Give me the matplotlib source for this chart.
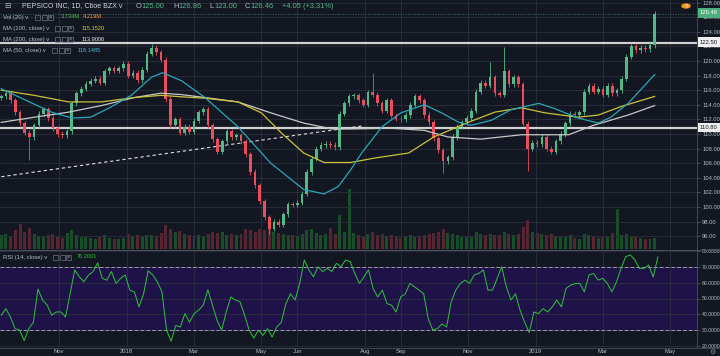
import numpy as np
import pandas as pd
import matplotlib
matplotlib.use('Agg')
import matplotlib.pyplot as plt
from matplotlib.patches import Rectangle, Circle

# one candle per 3 business days, first one on 2017-09-11
closes = [115.2, 115.6, 114.6, 113.0, 111.5, 110.2, 109.6, 111.2, 112.8, 113.4,
          112.2, 110.8, 110.0, 109.8, 110.4, 114.2, 115.6, 116.2, 116.9, 117.3,
          117.6, 117.0, 118.6, 119.0, 118.7, 119.0, 119.6, 118.0, 118.4, 117.4,
          118.8, 121.0, 121.8, 121.2, 120.2, 114.8, 111.2, 112.0, 110.2, 111.0,
          110.3, 111.8, 113.0, 113.4, 111.2, 109.3, 107.6, 109.0, 110.4, 109.6,
          109.8, 109.0, 107.2, 104.8, 103.0, 100.8, 98.6, 97.0, 98.0, 97.6,
          99.0, 100.4, 100.3, 100.6, 101.8, 104.8, 106.6, 108.0, 108.5, 108.7,
          108.5, 108.2, 112.8, 114.2, 115.2, 115.3, 114.6, 114.0, 115.7, 115.4,
          114.2, 113.2, 114.6, 112.5, 112.1, 112.0, 112.6, 114.0, 115.2, 114.6,
          112.6, 111.6, 109.4, 107.8, 106.3, 106.8, 109.6, 111.0, 111.6, 112.2,
          113.2, 115.8, 117.0, 116.6, 117.8, 115.6, 115.4, 118.6, 116.8, 117.8,
          116.8, 111.4, 108.0, 108.8, 108.6, 109.6, 108.0, 107.6, 109.0, 110.0,
          111.5, 112.8, 112.6, 113.0, 115.8, 116.6, 115.8, 116.2, 115.4, 116.6,
          115.6, 116.0, 117.6, 120.6, 122.0, 121.5, 121.8, 121.6, 122.2, 126.46]
first_open = 115.0
spike_highs = {32: 122.4, 79: 118.3, 104: 119.9, 107: 121.9, 139: 126.86}
spike_lows = {6: 106.4, 57: 96.3, 94: 104.7, 112: 105.0}

volumes = [5.5, 6.2, 5.0, 7.5, 10.0, 6.8, 8.5, 6.0, 5.2, 4.8,
           5.6, 6.0, 5.0, 4.6, 6.5, 7.8, 5.5, 4.8, 5.0, 4.5,
           4.2, 4.8, 5.5, 4.6, 4.2, 4.0, 4.5, 6.0, 5.2, 5.8,
           5.0, 5.5, 5.8, 5.2, 6.5, 9.5, 8.0, 6.8, 7.2, 6.0,
           5.8, 5.2, 5.5, 5.0, 6.2, 7.0, 6.5, 6.8, 5.5, 6.0,
           5.6, 6.2, 8.0, 7.5, 7.0, 8.2, 7.8, 9.0, 7.0, 6.5,
           6.0, 5.5, 5.8, 5.2, 6.0, 7.5, 8.0, 6.5, 5.5, 6.0,
           8.5, 6.0, 13.5, 7.0, 24.0, 6.5, 5.5, 5.0, 6.0, 7.0,
           5.5, 6.0, 5.2, 5.8, 4.8, 4.5, 5.0, 5.5, 4.8, 5.0,
           5.5, 6.0, 6.5, 7.0, 8.0, 6.5, 6.0, 5.5, 5.0, 4.8,
           5.0, 6.8, 6.0, 5.5, 6.2, 5.8, 5.5, 7.0, 6.0, 5.5,
           6.0, 9.0, 11.5, 7.0, 6.5, 6.0, 5.5, 6.0, 5.0, 4.8,
           5.0, 5.5, 4.5, 4.2, 6.0, 5.5, 4.8, 4.5, 5.0, 4.8,
           6.5, 16.0, 5.5, 6.0, 5.2, 4.8, 4.5, 4.2, 4.0, 4.5]

# moving averages: (business-day index, value)
ma50_days = [0, 32, 45, 57, 70, 83, 96, 103, 115, 130, 151, 172, 193, 206, 215, 223,
             230, 243, 255, 270, 281, 292, 300, 313, 325, 343, 353, 368, 381, 389, 400, 417]
ma50_vals = [116.2, 113.0, 112.2, 112.3, 113.7, 115.3, 117.8, 118.4, 117.3, 115.0, 111.0,
             106.0, 102.4, 101.8, 102.8, 105.1, 107.4, 111.0, 112.9, 114.0, 112.9, 111.6,
             111.2, 111.9, 113.3, 114.2, 113.5, 112.2, 111.5, 112.3, 114.2, 118.15]
ma100_days = [0, 21, 43, 64, 85, 102, 115, 130, 151, 166, 179, 193, 206, 223, 238, 260,
              276, 298, 315, 332, 347, 368, 381, 396, 417]
ma100_vals = [116.0, 115.3, 114.4, 114.4, 115.0, 115.3, 115.1, 114.9, 114.4, 112.9, 110.1,
              107.4, 106.1, 106.1, 106.7, 107.4, 109.6, 111.6, 113.0, 113.6, 112.9, 112.3,
              112.6, 113.8, 115.15]
ma200_days = [0, 21, 43, 64, 85, 102, 115, 130, 151, 172, 193, 211, 223, 249, 270, 285,
              306, 332, 347, 362, 378, 400, 417]
ma200_vals = [111.6, 112.3, 113.0, 113.9, 115.0, 115.6, 115.4, 115.0, 114.4, 112.9, 111.5,
              110.7, 110.7, 110.8, 110.5, 109.6, 109.3, 109.9, 109.9, 109.9, 111.2, 112.6, 113.9]

rsi = [39.4, 43.6, 38.3, 31.0, 30.0, 23.5, 31.0, 35.0, 56.0, 49.0, 45.8, 39.4, 41.5, 41.5,
       38.3, 53.0, 68.0, 63.7, 60.5, 64.8, 67.0, 72.5, 62.7, 61.6, 67.0, 59.5, 62.7, 64.8,
       55.3, 54.2, 44.7, 53.0, 67.5, 64.8, 60.5, 54.2, 30.0, 23.0, 33.0, 32.0, 40.5, 35.0,
       40.5, 42.6, 45.8, 55.5, 45.8, 36.2, 30.0, 41.5, 51.0, 49.0, 47.9, 39.4, 30.0, 25.0,
       30.0, 26.7, 31.0, 25.7, 32.0, 35.0, 46.8, 53.0, 49.0, 59.5, 74.3, 68.0, 63.7, 70.0,
       67.0, 69.0, 67.0, 72.2, 70.0, 74.3, 73.2, 65.8, 59.5, 63.7, 68.0, 56.3, 51.0, 55.3,
       46.8, 45.8, 41.5, 51.0, 53.0, 59.5, 57.4, 55.3, 53.0, 37.3, 30.0, 31.0, 34.0, 32.0,
       47.9, 55.3, 59.5, 61.6, 59.5, 64.8, 65.8, 68.0, 55.3, 55.3, 62.7, 70.0, 57.4, 49.0,
       53.0, 42.6, 35.0, 28.5, 41.5, 40.5, 43.6, 41.5, 44.7, 49.0, 44.7, 56.3, 58.4, 59.5,
       59.5, 54.2, 64.8, 65.8, 61.6, 62.7, 59.5, 54.2, 60.5, 69.0, 76.4, 77.5, 74.3, 69.0,
       69.0, 71.1, 63.5, 76.2]

tick_months = ['2017-11', '2018-01', '2018-03', '2018-05', '2018-06', '2018-08',
               '2018-09', '2018-11', '2019-01', '2019-03', '2019-05']
tick_labels = ['Nov', '2018', 'Mar', 'May', 'Jun', 'Aug', 'Sep', 'Nov', '2019', 'Mar', 'May']

levels = [122.50, 110.80]
trend_days = [0, 230]
trend_vals = [104.15, 111.1]

BG = '#131722'
GRID = '#2c303d'
TXT = '#b8bcc6'
UP, DOWN = '#53b987', '#eb4d5c'
FONT = ['Liberation Sans', 'DejaVu Sans']

W, H = 720, 356
def fx(px):
    return px / W
def fy(py):
    return 1 - py / H

fig = plt.figure(figsize=(7.2, 3.56), dpi=100, facecolor=BG)
ax = fig.add_axes([0, fy(249), fx(697), 249 / H])
axr = fig.add_axes([0, fy(347), fx(697), 97 / H], sharex=ax)
ax_vol = ax.twinx()
ax_vol.set_zorder(ax.get_zorder() - 1)
ax.patch.set_visible(False)
axr.set_facecolor(BG)

closes = np.array(closes)
opens = np.concatenate([[first_open], closes[:-1]])
x = np.arange(len(closes)) * 3
highs = np.maximum(opens, closes) + 0.35
lows = np.minimum(opens, closes) - 0.35
for i, v in spike_highs.items():
    highs[i] = v
for i, v in spike_lows.items():
    lows[i] = v
up = closes >= opens
colors = np.where(up, UP, DOWN)

# volume underneath
vcol = np.where(up, '#1b5a2a', '#652833')
ax_vol.bar(x, volumes, width=1.9, color=vcol, alpha=0.85)
ax_vol.set_ylim(0, 100)
ax_vol.axis('off')

ax.vlines(x, lows, highs, colors=colors, lw=0.6, zorder=3)
body = np.maximum(np.abs(closes - opens), 0.08)
ax.bar(x, body, bottom=np.minimum(opens, closes), width=1.7, color=colors, zorder=4)

ax.plot(ma200_days, ma200_vals, color='#c8c8c8', lw=0.9, zorder=5)
ax.plot(ma100_days, ma100_vals, color='#c9c23a', lw=0.9, zorder=5)
ax.plot(ma50_days, ma50_vals, color='#2aa7b8', lw=0.9, zorder=5)
for lv in levels:
    ax.axhline(lv, color='#d0d0d0', lw=1.6, zorder=2)
ax.plot(trend_days, trend_vals, color='#e0e0e0', lw=0.8, ls=(0, (3, 2.5)), zorder=2)
ax.axhline(closes[-1], color=UP, lw=0.6, ls=(0, (1, 2)), alpha=0.7, zorder=2)

dates = pd.bdate_range('2017-09-11', '2019-06-28')
tick_pos = [dates.searchsorted(pd.Timestamp(m + '-01')) for m in tick_months]

ax.set_xlim(-0.8, 444)
ax.set_ylim(94.25, 128.36)
ax.set_yticks(np.arange(96, 129, 2))
ax.yaxis.set_major_formatter(matplotlib.ticker.FormatStrFormatter('%.2f'))
axr.set_ylim(19.4, 80.6)
axr.set_yticks(np.arange(20, 81, 10))
axr.yaxis.set_major_formatter(matplotlib.ticker.FormatStrFormatter('%.4f'))
axr.set_xticks(tick_pos)
axr.set_xticklabels(tick_labels)

for a, ls in ((ax, 4.2), (axr, 3.7)):
    a.yaxis.tick_right()
    a.tick_params(axis='y', length=2.5, width=0.5, color='#5d606b', labelsize=ls,
                  labelcolor=TXT, pad=1.2)
    a.tick_params(axis='x', length=0, labelsize=4.2, labelcolor=TXT, pad=1.5)
    a.grid(True, color=GRID, lw=0.6)
    a.set_axisbelow(True)
    for s in ('top', 'left', 'bottom'):
        a.spines[s].set_visible(False)
    a.spines['right'].set_color('#4a4e5a')
    a.spines['right'].set_linewidth(0.6)
    for lab in a.get_yticklabels() + a.get_xticklabels():
        lab.set_family(FONT)
ax.tick_params(axis='x', labelbottom=False)

# RSI pane
rsi_x = np.linspace(0, 419, len(rsi))
axr.axhspan(30, 70, color='#1f1248', zorder=0)
axr.axhline(70, color='#9a9aa8', lw=0.7, ls=(0, (4, 2)), zorder=1)
axr.axhline(30, color='#9a9aa8', lw=0.7, ls=(0, (4, 2)), zorder=1)
axr.plot(rsi_x, rsi, color='#2fc43c', lw=0.7, zorder=3)

fig.add_artist(plt.Line2D([0, 1], [fy(249.5), fy(249.5)], color='#4a4e5a', lw=0.8))
fig.add_artist(plt.Line2D([0, 1], [fy(347.5), fy(347.5)], color='#4a4e5a', lw=0.6))

# header
fig.text(fx(4), fy(6), '\u229f', size=5.5, color=TXT, va='center', family=['DejaVu Sans'])
fig.text(fx(22), fy(6), 'PEPSICO INC, 1D, Cboe BZX v', size=5.0, color='#d1d4dc',
         va='center', family=FONT)
for px, key, val in [(136, 'O', '125.00'), (173, 'H', '126.86'), (209, 'L', '123.00'),
                     (245, 'C', '126.46')]:
    fig.text(fx(px), fy(6), key, size=5.4, color=TXT, va='center', family=FONT)
    fig.text(fx(px + 5.5), fy(6), val, size=5.4, color=UP, va='center', family=FONT)
fig.text(fx(282), fy(6), '+4.05 (+3.31%)', size=5.4, color=UP, va='center', family=FONT)

def icons(px, py):
    for k in range(3):
        fig.add_artist(Rectangle((fx(px + k * 6.5), fy(py + 2.5)), 5 / W, 5 / H,
                                 transform=fig.transFigure, fill=False, ec='#70737e', lw=0.5))
    fig.text(fx(px + 15.5), fy(py), '\u00d7', size=4, color=TXT, ha='center', va='center',
             family=FONT)

legend_rows = [
    (17, 'Vol (20) v', 35, [(61, '3.734M', '#4cbf4c'), (83, '4.219M', '#ff9830')]),
    (28.5, 'MA (100, close) v', 55, [(82, '115.1520', '#d8d83a')]),
    (39.5, 'MA (200, close) v', 55, [(82, '113.9006', '#e8e8e8')]),
    (50.5, 'MA (50, close) v', 52, [(78, '118.1485', '#3fc6dc')]),
    (257, 'RSI (14, close) v', 53, [(77, '76.2001', '#2fc43c')]),
]
for py, name, ix, vals in legend_rows:
    fig.text(fx(3), fy(py), name, size=4.3, color=TXT, va='center', family=FONT)
    icons(ix, py)
    for px, s, c in vals:
        fig.text(fx(px), fy(py), s, size=4.1, color=c, va='center', family=FONT)

# price-scale labels
for py, s, fc, tc in [(13, '126.46', '#4caf7d', 'white'), (42, '122.50', '#eeeeee', '#131722'),
                      (127.7, '110.80', '#eeeeee', '#131722')]:
    fig.text(fx(700), fy(py), s, size=4.2, color=tc, va='center', family=FONT,
             bbox=dict(boxstyle='square,pad=0.35', fc=fc, ec='none'))

fig.add_artist(Circle((fx(686), fy(6)), 4 / W, transform=fig.transFigure, color='#f7931e'))
fig.text(fx(686), fy(6), '!', size=4.5, color='white', ha='center', va='center',
         weight='bold', family=FONT)
fig.text(fx(712), fy(351.5), '\u2699', size=5, color='#8a8d96', ha='center', va='center',
         family=['DejaVu Sans'])

fig.savefig('out.png', dpi=100, facecolor=BG)
